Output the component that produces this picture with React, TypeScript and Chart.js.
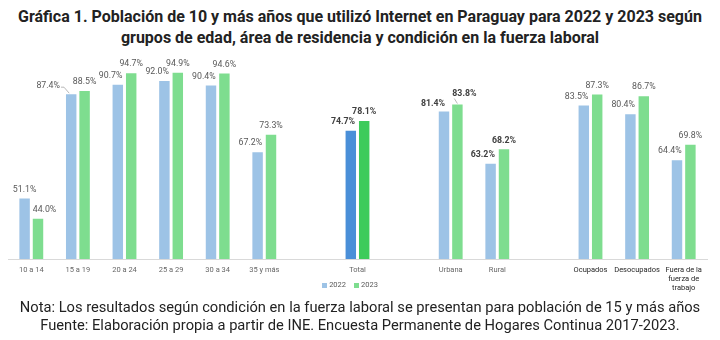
import React, { useEffect, useRef } from 'react';
import { Chart, registerables } from 'chart.js';

Chart.register(...registerables);

const categories: (string | string[])[] = [
  '10 a 14', '15 a 19', '20 a 24', '25 a 29', '30 a 34', '35 y más', '',
  'Total', '', 'Urbana', 'Rural', '',
  'Ocupados', 'Desocupados', ['Fuera de la', 'fuerza de', 'trabajo'],
];
const values2022: (number | null)[] = [51.1, 87.4, 90.7, 92.0, 90.4, 67.2, null, 74.7, null, 81.4, 63.2, null, 83.5, 80.4, 64.4];
const values2023: (number | null)[] = [44.0, 88.5, 94.7, 94.9, 94.6, 73.3, null, 78.1, null, 83.8, 68.2, null, 87.3, 86.7, 69.8];
const seriesNames = ['2022', '2023'];
const boldCategories = ['Total', 'Urbana', 'Rural'];
const darkTickCategories = ['Ocupados', 'Desocupados', 'Fuera de la'];

const TITLE_1 = 'Gráfica 1. Población de 10 y más años que utilizó Internet en Paraguay para 2022 y 2023 según';
const TITLE_2 = 'grupos de edad, área de residencia y condición en la fuerza laboral';
const NOTE_1 = 'Nota: Los resultados según condición en la fuerza laboral se presentan para población de 15 y más años';
const NOTE_2 = 'Fuente: Elaboración propia a partir de INE. Encuesta Permanente de Hogares Continua 2017-2023.';

const BLUE = '#9DC3E6';
const GREEN = '#7EDD8F';
const BLUE_DARK = '#4A8FD8';
const GREEN_DARK = '#3DCB5B';

const catName = (i: number) => {
  const c = categories[i];
  return Array.isArray(c) ? c[0] : c;
};

const labelAdjust: Record<string, { dx: number; dy: number; leader?: string }> = {
  '0-1': { dx: -23, dy: -8, leader: 'left' },
  '0-9': { dx: -11, dy: -8 },
  '1-9': { dx: 7, dy: -11, leader: 'below' },
  '1-0': { dx: 6.5, dy: -9 },
};

const fmt = (v: number) => v.toFixed(1) + '%';

const labelPlugin = {
  id: 'barLabels',
  afterDatasetsDraw(chart: any) {
    const ctx = chart.ctx as CanvasRenderingContext2D;
    const m0 = chart.getDatasetMeta(0);
    const m1 = chart.getDatasetMeta(1);
    ctx.save();
    ctx.textAlign = 'center';
    ctx.textBaseline = 'middle';
    for (let i = 0; i < categories.length; i++) {
      const v0 = values2022[i];
      const v1 = values2023[i];
      if (v0 == null || v1 == null) continue;
      const bold = boldCategories.includes(catName(i));
      ctx.font = `${bold ? 'bold ' : ''}8.8px Roboto`;
      const color = bold ? '#404040' : '#595959';
      const b0 = m0.data[i];
      const b1 = m1.data[i];
      const t0 = fmt(v0);
      const t1 = fmt(v1);
      const w0 = ctx.measureText(t0).width;
      const w1 = ctx.measureText(t1).width;
      let g = { x: b1.x, y: b1.y - 9 };
      const a1 = labelAdjust[`1-${i}`];
      if (a1) g = { x: b1.x + a1.dx, y: b1.y + a1.dy };
      let bl = { x: b0.x, y: b0.y - 9 };
      const a0 = labelAdjust[`0-${i}`];
      if (a0) bl = { x: b0.x + a0.dx, y: b0.y + a0.dy };
      else if (v0 < v1) {
        bl.x = Math.min(b0.x, g.x - w1 / 2 - w0 / 2 + 3);
      }
      ctx.fillStyle = color;
      ctx.fillText(t0, bl.x, bl.y);
      ctx.fillText(t1, g.x, g.y);
      ctx.strokeStyle = '#A6A6A6';
      ctx.lineWidth = 0.8;
      if (a0 && a0.leader === 'left') {
        const r = bl.x + w0 / 2;
        ctx.beginPath();
        ctx.moveTo(r + 1, bl.y + 1);
        ctx.lineTo(r + 4, bl.y + 1);
        ctx.lineTo(b0.x - 2, b0.y - 1);
        ctx.stroke();
      }
      if (a1 && a1.leader === 'below') {
        ctx.beginPath();
        ctx.moveTo(g.x - w1 / 2 + 2, g.y + 5);
        ctx.lineTo(b1.x, b1.y - 1);
        ctx.stroke();
      }
    }
    ctx.restore();
  },
};

function ChartView() {
  const ref = useRef<HTMLCanvasElement>(null);
  useEffect(() => {
    if (!ref.current) return;
    const bg0 = categories.map((_, i) => (catName(i) === 'Total' ? BLUE_DARK : BLUE));
    const bg1 = categories.map((_, i) => (catName(i) === 'Total' ? GREEN_DARK : GREEN));
    const chart = new Chart(ref.current, {
      type: 'bar',
      data: {
        labels: categories as any,
        datasets: [
          { label: seriesNames[0], data: values2022 as any, backgroundColor: bg0, categoryPercentage: 0.575, barPercentage: 0.78 },
          { label: seriesNames[1], data: values2023 as any, backgroundColor: bg1, categoryPercentage: 0.575, barPercentage: 0.78 },
        ],
      },
      options: {
        responsive: false,
        animation: false,
        layout: { padding: { left: 8, right: 13, top: 8, bottom: 5 } },
        plugins: { legend: { display: false }, tooltip: { enabled: false }, title: { display: false } },
        scales: {
          x: {
            grid: { display: false, drawTicks: false },
            border: { display: true, color: '#D9D9D9' },
            ticks: {
              autoSkip: false,
              maxRotation: 0,
              padding: 6,
              font: { family: 'Roboto', size: 7.5, lineHeight: 1.25 },
              color: (c: any) => (darkTickCategories.includes(catName(c.index)) ? '#262626' : '#666666'),
            },
            afterFit: (s: any) => { s.height = 36; },
          },
          y: { display: false, min: 30, max: 100 },
        },
      },
      plugins: [labelPlugin],
    });
    return () => chart.destroy();
  }, []);
  return <canvas ref={ref} width={720} height={250} style={{ position: 'absolute', left: 0, top: 50, width: 720, height: 250 }} />;
}

export default function App() {
  const legendItem = (name: string, color: string) => (
    <span style={{ display: 'inline-flex', alignItems: 'center', marginRight: 8 }}>
      <span style={{ width: 5, height: 5, background: color, display: 'inline-block', marginRight: 2 }} />
      <span>{name}</span>
    </span>
  );
  return (
    <div style={{ position: 'fixed', left: 0, top: 0, width: 720, height: 340, background: '#fff', fontFamily: 'Roboto', overflow: 'hidden' }}>
      <div style={{ position: 'absolute', left: 0, top: 6, width: 720, textAlign: 'center', fontWeight: 'bold', fontSize: 16, lineHeight: '21px', color: '#222' }}>
        <div>{TITLE_1}</div>
        <div>{TITLE_2}</div>
      </div>
      <ChartView />
      <div style={{ position: 'absolute', left: -6, top: 280, width: 720, textAlign: 'center', fontSize: 7.5, color: '#595959', lineHeight: '10px' }}>
        {legendItem(seriesNames[0], BLUE)}
        {legendItem(seriesNames[1], GREEN)}
      </div>
      <div style={{ position: 'absolute', left: 0, top: 298, width: 720, textAlign: 'center', fontSize: 14.7, lineHeight: '18px', color: '#222', whiteSpace: 'nowrap' }}>
        <div>{NOTE_1}</div>
        <div>{NOTE_2}</div>
      </div>
    </div>
  );
}
